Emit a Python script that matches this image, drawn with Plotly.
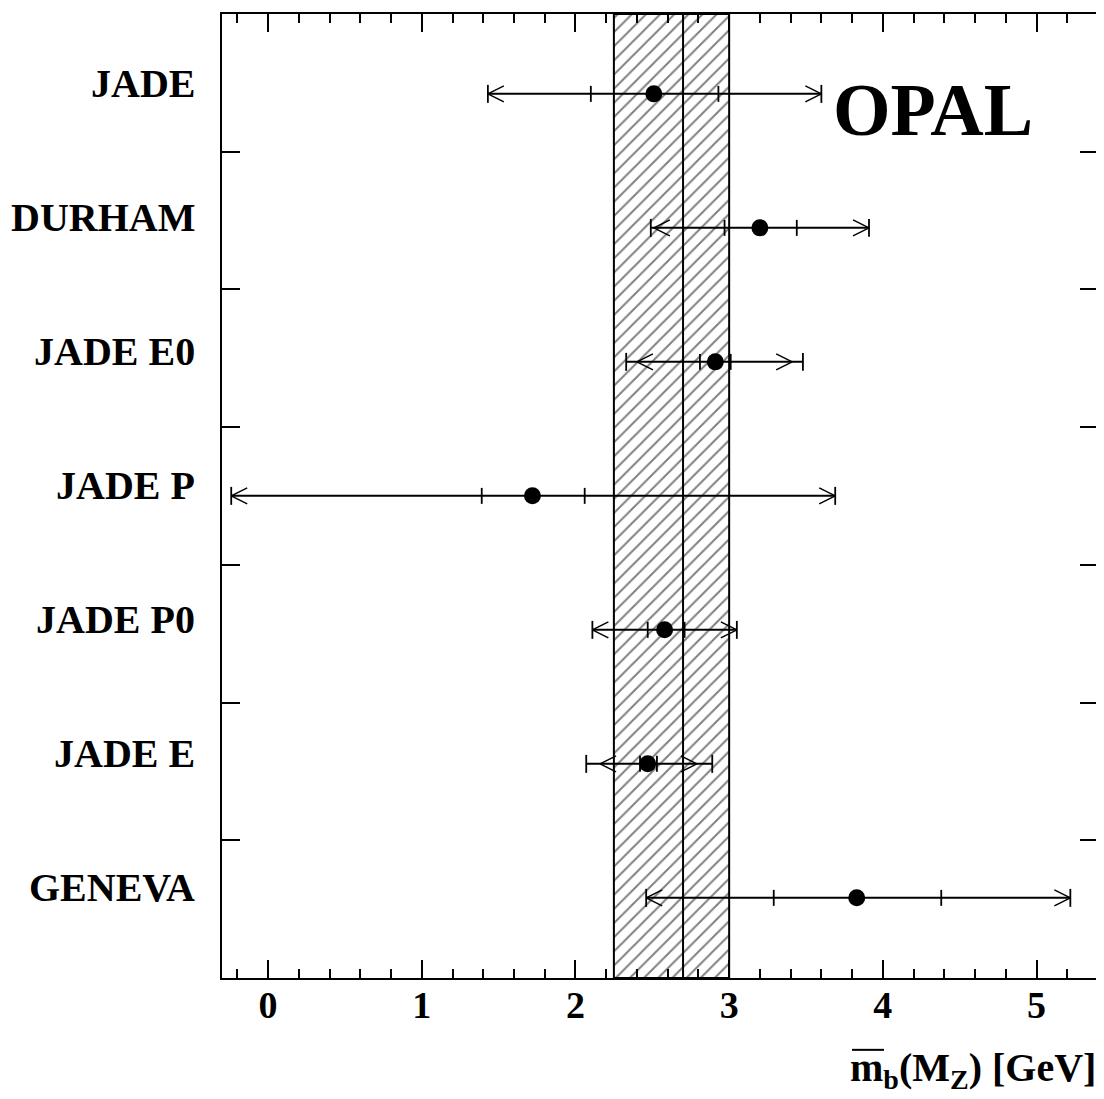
import plotly.graph_objects as go

# ---- data ----
labels = ["JADE", "DURHAM", "JADE E0", "JADE P", "JADE P0", "JADE E", "GENEVA"]
central = [2.51, 3.20, 2.91, 1.72, 2.58, 2.47, 3.83]
stat_lo = [2.10, 2.97, 2.81, 1.39, 2.47, 2.42, 3.29]
stat_hi = [2.93, 3.44, 3.01, 2.06, 2.71, 2.53, 4.38]
tot_lo = [1.43, 2.49, 2.33, -0.24, 2.11, 2.07, 2.46]
tot_hi = [3.60, 3.91, 3.48, 3.69, 3.05, 2.89, 5.22]
arr_lo = [1.43, 2.51, 2.40, -0.24, 2.11, 2.16, 2.46]
arr_hi = [3.60, 3.91, 3.41, 3.69, 3.05, 2.79, 5.22]
band_lo, band_mid, band_hi = 2.25, 2.70, 3.00
x_ticks = [0, 1, 2, 3, 4, 5]

# ---- layout constants (page has an 8px body margin) ----
OFF = 8
W, H = 1104 - OFF, 1099 - OFF
ML, MR, MT, MB = 222 - OFF, 6, 12 - OFF, 121
XR = [-0.3, 5.4]
YR = [0, 7]
pw, ph = W - ML - MR, H - MT - MB
sx = pw / (XR[1] - XR[0])   # px per x unit
sy = ph / (YR[1] - YR[0])   # px per y unit
row_y = [6.42 - 0.973 * i for i in range(len(labels))]

FONT = "Liberation Serif"

fig = go.Figure()

# hatched band
fig.add_trace(go.Scatter(
    x=[band_lo, band_hi, band_hi, band_lo, band_lo],
    y=[YR[0], YR[0], YR[1], YR[1], YR[0]],
    mode="lines", fill="toself",
    fillcolor="white",
    fillpattern=dict(shape="/", fgcolor="black", bgcolor="white", size=10, solidity=0.2),
    line=dict(color="black", width=2), hoverinfo="skip", showlegend=False))
fig.add_trace(go.Scatter(x=[band_mid, band_mid], y=[YR[0], YR[1]], mode="lines",
                         line=dict(color="black", width=2), hoverinfo="skip", showlegend=False))

# error bars
bx, by = [], []
tx, ty = [], []
ax_, ay_ = [], []
dcap = 9 / sy
dtick = 8 / sy
adx = 16 / sx
ady = 8 / sy
for i, y in enumerate(row_y):
    bx += [tot_lo[i], tot_hi[i], None]
    by += [y, y, None]
    for xv in (tot_lo[i], tot_hi[i]):
        tx += [xv, xv, None]
        ty += [y - dcap, y + dcap, None]
    for xv in (stat_lo[i], stat_hi[i]):
        tx += [xv, xv, None]
        ty += [y - dtick, y + dtick, None]
    ax_ += [arr_lo[i] + adx, arr_lo[i], arr_lo[i] + adx, None]
    ay_ += [y + ady, y, y - ady, None]
    ax_ += [arr_hi[i] - adx, arr_hi[i], arr_hi[i] - adx, None]
    ay_ += [y + ady, y, y - ady, None]

fig.add_trace(go.Scatter(x=bx, y=by, mode="lines", line=dict(color="black", width=2),
                         hoverinfo="skip", showlegend=False))
fig.add_trace(go.Scatter(x=tx, y=ty, mode="lines", line=dict(color="black", width=1.8),
                         hoverinfo="skip", showlegend=False))
fig.add_trace(go.Scatter(x=ax_, y=ay_, mode="lines", line=dict(color="black", width=1.5),
                         hoverinfo="skip", showlegend=False))
fig.add_trace(go.Scatter(x=central, y=row_y, mode="markers",
                         marker=dict(color="black", size=17, symbol="circle"),
                         showlegend=False))

# category labels
for lab, y in zip(labels, row_y):
    fig.add_annotation(text=lab, x=-25 / pw, xref="paper", y=y, yref="y", yshift=10,
                       xanchor="right", yanchor="middle", showarrow=False,
                       font=dict(family=FONT, size=40, color="black", weight="bold"))

# OPAL
fig.add_annotation(text="OPAL", x=(933 - OFF - ML) / pw, xref="paper",
                   y=(H - MB - (108 - OFF)) / ph, yref="paper",
                   xanchor="center", yanchor="middle", showarrow=False,
                   font=dict(family=FONT, size=74, color="black", weight="bold"))

# axis title
fig.add_annotation(text="m<sub>b</sub>(M<sub>Z</sub>) [GeV]", x=1.0, xref="paper",
                   y=-((1070 - OFF) - (H - MB)) / ph, yref="paper",
                   xanchor="right", yanchor="middle", showarrow=False,
                   font=dict(family=FONT, size=40, color="black", weight="bold"))
# overline on m
fig.add_shape(type="line", xref="paper", yref="paper",
              x0=(852 - OFF - ML) / pw, x1=(884 - OFF - ML) / pw,
              y0=-((1050 - OFF) - (H - MB)) / ph, y1=-((1050 - OFF) - (H - MB)) / ph,
              line=dict(color="black", width=2))

fig.update_layout(
    width=W, height=H, margin=dict(l=ML, r=MR, t=MT, b=MB),
    paper_bgcolor="white", plot_bgcolor="white",
    xaxis=dict(range=XR, tickvals=x_ticks, ticks="inside", ticklen=18, tickwidth=2,
               tickcolor="black", showline=True, linecolor="black", linewidth=2,
               mirror="ticks", showgrid=False, zeroline=False, ticklabelstandoff=-8,
               tickfont=dict(family=FONT, size=38, color="black", weight="bold"),
               minor=dict(dtick=0.2, tick0=0, ticks="inside", ticklen=9, tickwidth=2,
                          tickcolor="black", showgrid=False)),
    yaxis=dict(range=YR, tickvals=[1, 2, 3, 4, 5, 6], ticks="inside", ticklen=18, tickwidth=1.5,
               tickcolor="black", showline=True, linecolor="black", linewidth=2,
               mirror="ticks", showgrid=False, zeroline=False, showticklabels=False),
)

fig.write_html("out.html")
